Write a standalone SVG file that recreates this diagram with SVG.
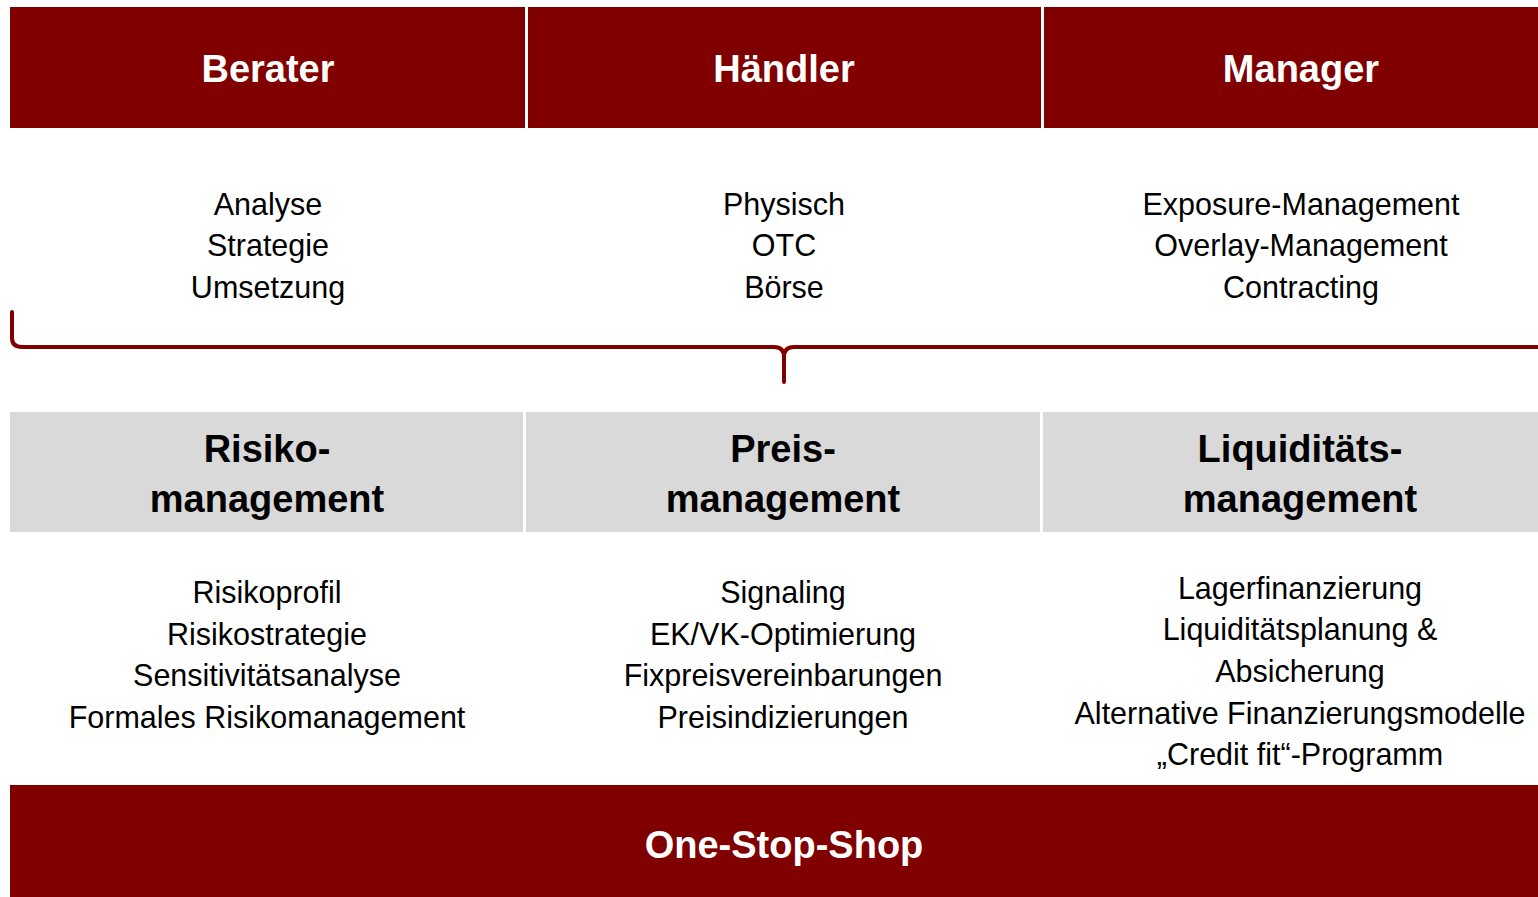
<svg xmlns="http://www.w3.org/2000/svg" width="1538" height="897" viewBox="0 0 1538 897">
<style>
.hdr{fill:#800000}
.gry{fill:#d9d9d9}
.ht{font-family:"Liberation Sans",Arial,sans-serif;font-weight:bold;font-size:38px;fill:#ffffff;text-anchor:middle}
.gt{font-family:"Liberation Sans",Arial,sans-serif;font-weight:bold;font-size:38px;fill:#000000;text-anchor:middle}
.bt{font-family:"Liberation Sans",Arial,sans-serif;font-size:30.5px;fill:#000000;text-anchor:middle}
</style>
<rect width="1538" height="897" fill="#ffffff"/>
<g id="berater"><rect class="hdr" x="10" y="7" width="515" height="121"/><text class="ht" x="268" y="82">Berater</text></g>
<g id="haendler"><rect class="hdr" x="528" y="7" width="513" height="121"/><text class="ht" x="784" y="82">Händler</text></g>
<g id="manager"><rect class="hdr" x="1044" y="7" width="494" height="121"/><text class="ht" x="1301" y="82">Manager</text></g>
<g id="berater-list"><text class="bt" x="268" y="215">Analyse</text><text class="bt" x="268" y="256">Strategie</text><text class="bt" x="268" y="298">Umsetzung</text></g>
<g id="haendler-list"><text class="bt" x="784" y="215">Physisch</text><text class="bt" x="784" y="256">OTC</text><text class="bt" x="784" y="298">Börse</text></g>
<g id="manager-list"><text class="bt" x="1301" y="215">Exposure-Management</text><text class="bt" x="1301" y="256">Overlay-Management</text><text class="bt" x="1301" y="298">Contracting</text></g>
<g id="connectors"><path d="M12,312 V338 Q12,347 22,347 H774 Q784,347 784,357 V382 M784,382 V357 Q784,347 794,347 H1538" fill="none" stroke="#800000" stroke-width="4" stroke-linecap="round"/></g>
<g id="risiko"><rect class="gry" x="10" y="412" width="513" height="120"/><text class="gt" x="267" y="462">Risiko-</text><text class="gt" x="267" y="512">management</text></g>
<g id="preis"><rect class="gry" x="526" y="412" width="514" height="120"/><text class="gt" x="783" y="462">Preis-</text><text class="gt" x="783" y="512">management</text></g>
<g id="liquiditaet"><rect class="gry" x="1043" y="412" width="495" height="120"/><text class="gt" x="1300" y="462">Liquiditäts-</text><text class="gt" x="1300" y="512">management</text></g>
<g id="risiko-list"><text class="bt" x="267" y="603">Risikoprofil</text><text class="bt" x="267" y="645">Risikostrategie</text><text class="bt" x="267" y="686">Sensitivitätsanalyse</text><text class="bt" x="267" y="728">Formales Risikomanagement</text></g>
<g id="preis-list"><text class="bt" x="783" y="603">Signaling</text><text class="bt" x="783" y="645">EK/VK-Optimierung</text><text class="bt" x="783" y="686">Fixpreisvereinbarungen</text><text class="bt" x="783" y="728">Preisindizierungen</text></g>
<g id="liquiditaet-list"><text class="bt" x="1300" y="599">Lagerfinanzierung</text><text class="bt" x="1300" y="640">Liquiditätsplanung &amp;</text><text class="bt" x="1300" y="682">Absicherung</text><text class="bt" x="1300" y="724">Alternative Finanzierungsmodelle</text><text class="bt" x="1300" y="765">„Credit fit“-Programm</text></g>
<g id="onestop"><rect class="hdr" x="10" y="785" width="1528" height="112"/><text class="ht" x="784" y="858">One-Stop-Shop</text></g>
</svg>
